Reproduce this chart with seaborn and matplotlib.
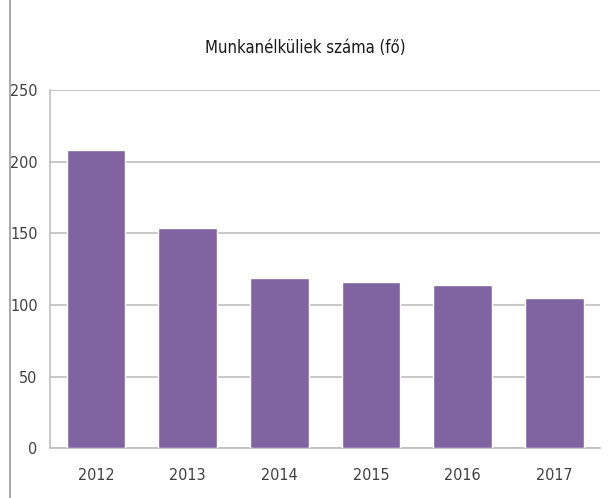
import matplotlib
matplotlib.use("Agg")
import matplotlib.pyplot as plt
import seaborn as sns
import pandas as pd
from matplotlib.patches import Rectangle
from matplotlib import font_manager

years = ["2012", "2013", "2014", "2015", "2016", "2017"]
values = [208, 154, 119, 116, 114, 105]
title = "Munkanélküliek száma (fő)"

df = pd.DataFrame({"ev": years, "fo": values})

sns.set_style("white")
names = {f.name for f in font_manager.fontManager.ttflist}
fams = [n for n in ["Liberation Sans Narrow", "DejaVu Sans Condensed", "DejaVu Sans"] if n in names]
plt.rcParams["font.family"] = fams
plt.rcParams["font.stretch"] = "condensed"

fig = plt.figure(figsize=(6.11, 4.98), dpi=100)
ax = fig.add_axes([0.082, 0.0996, 0.9, 0.7199])

sns.barplot(data=df, x="ev", y="fo", color="#8064A2", saturation=1,
            width=0.64, ax=ax, zorder=3)

ax.set_ylim(0, 250)
ax.set_yticks(range(0, 251, 50))
ax.yaxis.grid(True, color="#BFBFBF", linewidth=1.2, zorder=0)
ax.set_xlabel("")
ax.set_ylabel("")
ax.tick_params(axis="both", labelsize=11.5, colors="#404040", length=0)
ax.tick_params(axis="x", pad=14)
ax.tick_params(axis="y", pad=9)
for s in ["top", "right"]:
    ax.spines[s].set_visible(False)
for s in ["left", "bottom"]:
    ax.spines[s].set_color("#BFBFBF")
    ax.spines[s].set_linewidth(1.2)

fig.text(0.5, 0.903, title, ha="center", va="center", fontsize=12,
         fontweight="medium", color="#1a1a1a")

fig.patches.append(Rectangle((0.016, -0.01), 1.0, 1.02, transform=fig.transFigure,
                             fill=False, edgecolor="#9a9a9a", linewidth=1.2))

fig.savefig("out.png", dpi=100)
